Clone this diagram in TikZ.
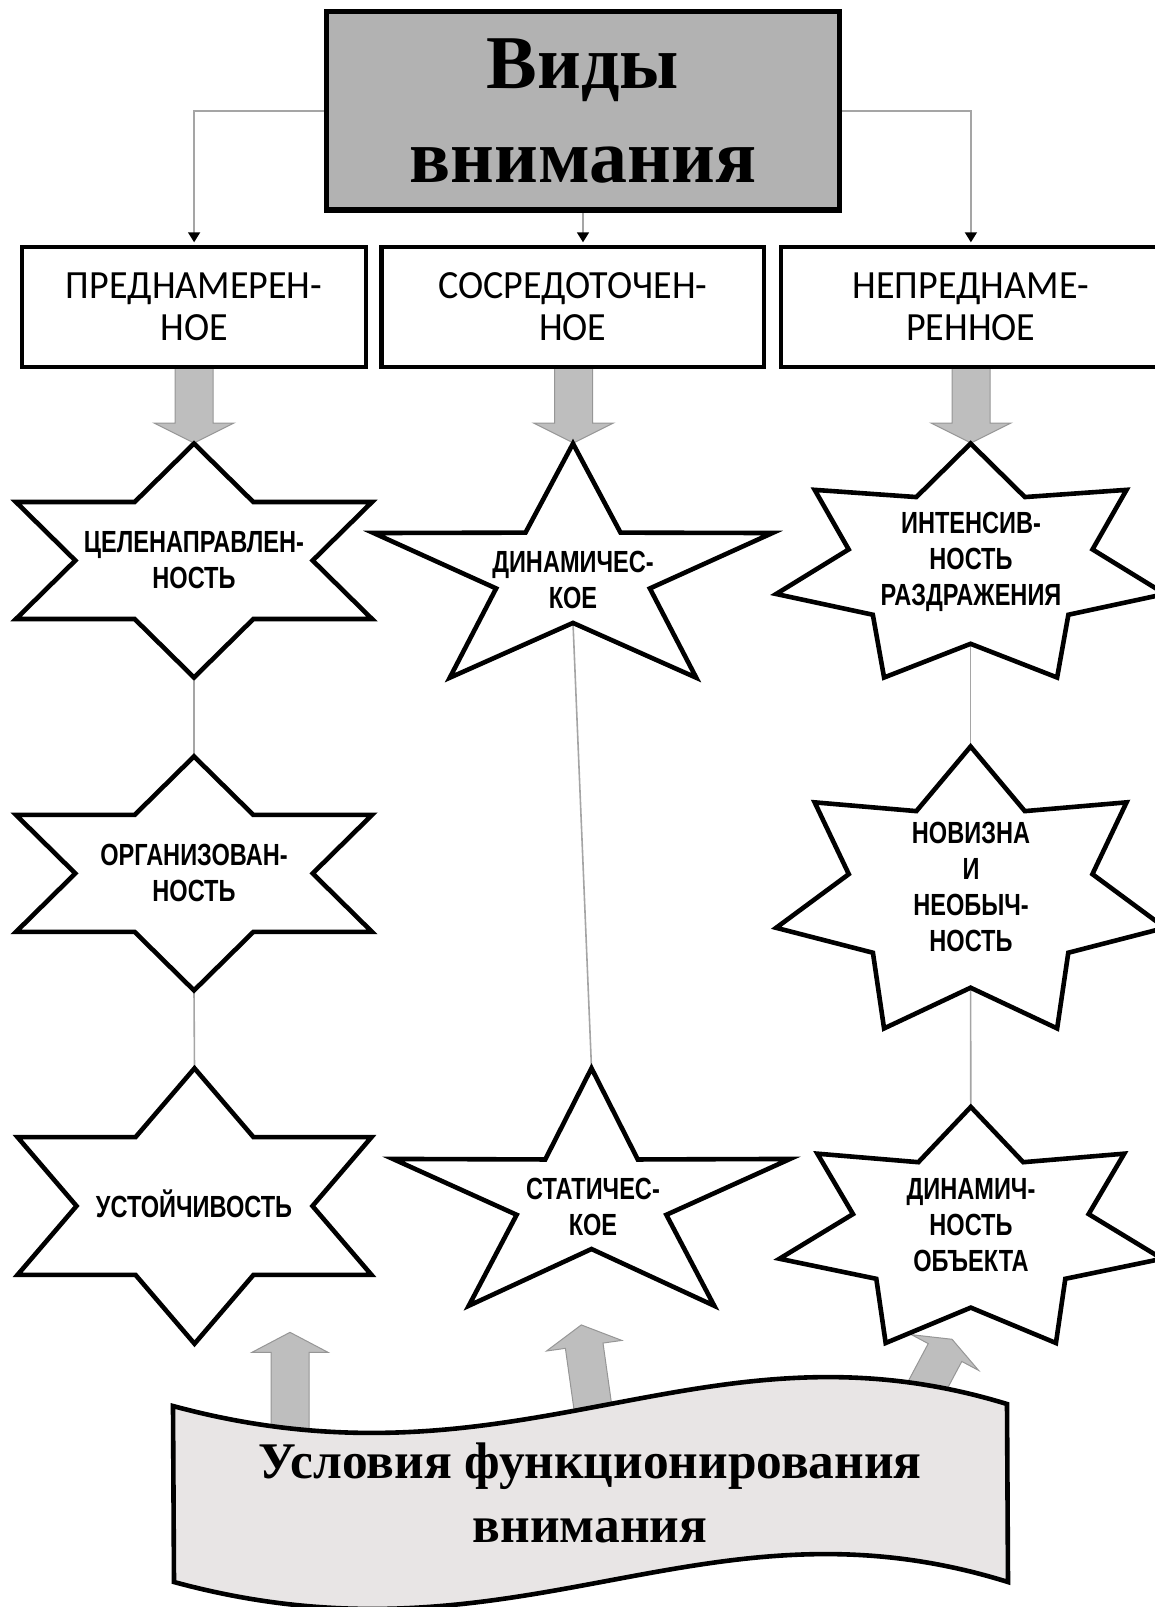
\documentclass[tikz,border=0pt]{standalone}
\usepackage{fontspec}
\setmainfont{Liberation Serif}
\newfontfamily\boxfont[FakeStretch=0.95]{Carlito}
\newfontfamily\starfont[FakeStretch=0.77]{Liberation Sans}
\newfontfamily\titlefont{Liberation Serif}
\usetikzlibrary{arrows.meta}
\pgfdeclarelayer{bg}
\pgfsetlayers{bg,main}
\definecolor{titlegray}{RGB}{178,178,178}
\definecolor{arrowgray}{RGB}{190,190,190}
\definecolor{arrowedge}{RGB}{150,150,150}
\definecolor{linkgray}{RGB}{165,165,165}
\definecolor{bannerfill}{RGB}{232,229,229}
\tikzset{
  titlebox/.style={draw=black, line width=2.6pt, fill=titlegray, minimum width=256.7pt,
    minimum height=99.2pt, inner sep=0pt, align=center,
    font=\titlefont\bfseries\fontsize{38}{47.25}\selectfont},
  catbox/.style={draw=black, line width=2.2pt, fill=white, minimum height=60pt, inner sep=0pt,
    align=center, font=\boxfont\fontsize{20}{21}\selectfont},
  link/.style={draw=linkgray, line width=0.8pt},
  linkarrow/.style={link, shorten >=1.1pt, -{Triangle[width=6pt,length=5pt,color=black]}},
  starline/.style={draw=black, line width=2.3pt, fill=white, line join=miter},
  startext/.style={font=\starfont\bfseries\fontsize{15.3}{18}\selectfont, align=center, inner sep=0pt},
  blockarrow/.style={fill=arrowgray, draw=arrowedge, line width=0.5pt, line join=miter},
  banner/.style={draw=black, line width=2.3pt, fill=bannerfill, line join=miter},
  bannertext/.style={font=\titlefont\bfseries\fontsize{25.7}{31.85}\selectfont, align=center, inner sep=0pt}
}
% star outline: cx, cy, points, outer radius, inner radius, x-stretch
\newcommand\drawstar[6]{%
  \pgfmathtruncatemacro\starnm{#3-1}%
  \draw[starline] ({#1},{#2-#4})
    \foreach \k in {1,...,\starnm}{
      -- ({#1+#6*#5*cos(90+(2*\k-1)*180/#3)},{#2-#5*sin(90+(2*\k-1)*180/#3)})
      -- ({#1+#6*#4*cos(90+2*\k*180/#3)},{#2-#4*sin(90+2*\k*180/#3)})
    }
    -- ({#1+#6*#5*cos(90+(2*#3-1)*180/#3)},{#2-#5*sin(90+(2*#3-1)*180/#3)}) -- cycle;
}
% grey block arrow pointing down, centred at x
\newcommand\blockdown[1]{%
  \draw[blockarrow] ({#1-19},360) -- ({#1+19},360) -- ({#1+19},423) -- ({#1+40},423)
    -- ({#1},443) -- ({#1-40},423) -- ({#1-19},423) -- cycle;
}
% grey block arrow pointing up: head base centre x,y, rotation, head length, shaft length
\newcommand\blockup[5]{%
  \draw[blockarrow, shift={(#1,#2)}, rotate=#3] (0,-#4) -- (38,0) -- (19,0) -- (19,#5)
    -- (-19,#5) -- (-19,0) -- (-38,0) -- cycle;
}
\begin{document}
\begin{tikzpicture}[x=0.5pt,y=-0.5pt]
\useasboundingbox (0,0) rectangle (1155,1607);
\clip (0,0) rectangle (1155,1607);

% top level
\node[titlebox] (title) at (583,110.85) {Виды\\внимания};
\node[catbox, minimum width=172pt] (b1) at (194.1,306.7) {ПРЕДНАМЕРЕН-\\НОЕ};
\node[catbox, minimum width=191.2pt] (b2) at (572.75,306.7) {СОСРЕДОТОЧЕН-\\НОЕ};
\node[catbox, minimum width=190pt] (b3) at (970.9,306.7) {НЕПРЕДНАМЕ-\\РЕННОЕ};

% stars
\drawstar{194}{560.5}{6}{117}{67.55}{1.757}
\drawstar{194}{873.4}{6}{117}{67.55}{1.757}
\drawstar{194.5}{1206}{6}{137.7}{79.5}{1.484}
\drawstar{573}{573}{5}{129.4}{49.9}{1.62}
\drawstar{591.5}{1199.5}{5}{131.3}{49.5}{1.59}
\drawstar{970.6}{566.6}{7}{123.1}{77.2}{1.62}
\drawstar{970.6}{894.8}{7}{148.3}{92.9}{1.345}
\drawstar{970.8}{1231.1}{7}{124.2}{76.5}{1.58}

% star tips used by the connectors
\coordinate (a1b) at (194,677.5);
\coordinate (a2t) at (194,756.4);
\coordinate (a2b) at (194,990.4);
\coordinate (a3t) at (194.5,1068.3);
\coordinate (b1b) at (573,622.9);
\coordinate (b2t) at (591.5,1068.2);
\coordinate (c1b) at (970.6,643.8);
\coordinate (c2t) at (970.6,746.5);
\coordinate (c2b) at (970.6,987.7);
\coordinate (c3t) at (970.8,1106.9);

% star labels
\node[startext] (ta1) at (194,560.5) {ЦЕЛЕНАПРАВЛЕН-\\НОСТЬ};
\node[startext] (ta2) at (194,873) {ОРГАНИЗОВАН-\\НОСТЬ};
\node[startext] (ta3) at (194,1204) {УСТОЙЧИВОСТЬ};
\node[startext] (tb1) at (573,580) {ДИНАМИЧЕС-\\КОЕ};
\node[startext] (tb2) at (593,1207) {СТАТИЧЕС-\\КОЕ};
\node[startext] (tc1) at (971,562) {ИНТЕНСИВ-\\НОСТЬ\\РАЗДРАЖЕНИЯ};
\node[startext] (tc2) at (971,886.7) {НОВИЗНА\\И\\НЕОБЫЧ-\\НОСТЬ};
\node[startext] (tc3) at (971,1225) {ДИНАМИЧ-\\НОСТЬ\\ОБЪЕКТА};

\begin{pgfonlayer}{bg}
  \draw[linkarrow] (title.west) -| (b1.north);
  \draw[linkarrow] (title.south) -- (title.south |- b2.north);
  \draw[linkarrow] (title.east) -| (b3.north);
  \draw[link] (a1b) -- (a2t);
  \draw[link] (a2b) -- (a3t);
  \draw[link] (b1b) -- (b2t);
  \draw[link] (c1b) -- (c2t);
  \draw[link] (c2b) -- (c3t);
  \blockdown{194}
  \blockdown{573.5}
  \blockdown{971}
  \blockup{290}{1352.3}{0}{20}{80}
  \blockup{584.2}{1345.7}{8}{21}{72}
  \blockup{945}{1352.5}{-28}{15}{55}
\end{pgfonlayer}

% banner
\draw[banner] (173,1406) .. controls (520,1500) and (700,1310) .. (1007,1404)
  -- (1008,1582) .. controls (700,1486) and (520,1676) .. (174,1582) -- cycle;
\node[bannertext] (cond) at (590,1493) {Условия функционирования\\внимания};
\end{tikzpicture}
\end{document}
